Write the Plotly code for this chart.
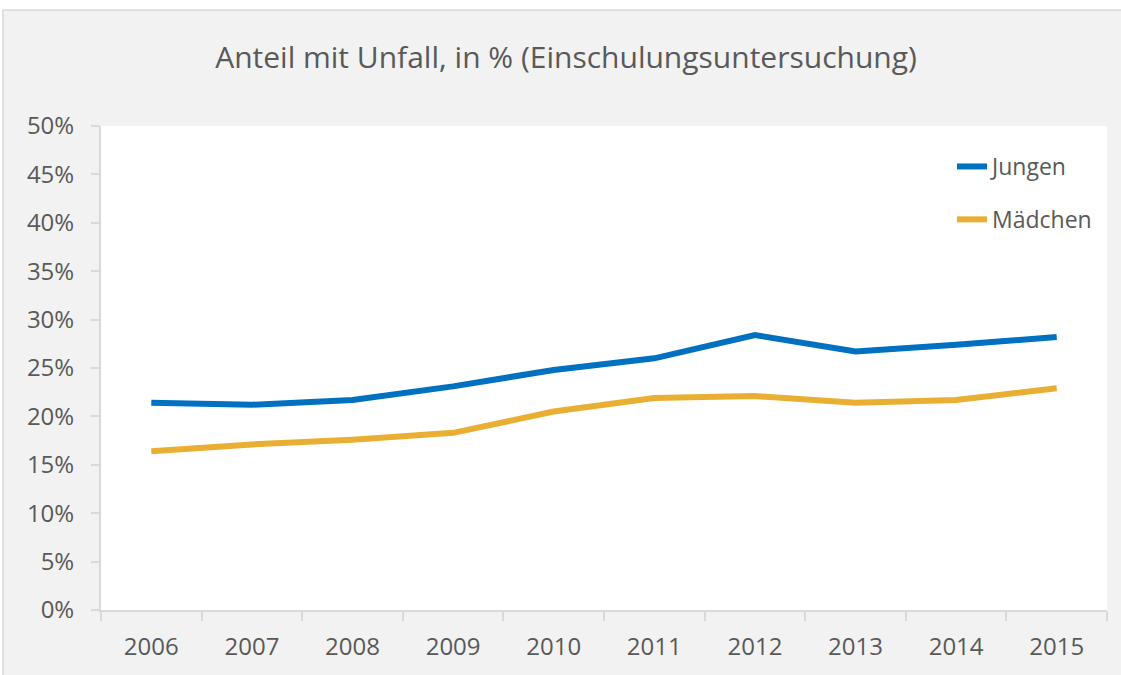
import plotly.graph_objects as go

years = ["2006", "2007", "2008", "2009", "2010", "2011", "2012", "2013", "2014", "2015"]
jungen = [21.4, 21.2, 21.7, 23.1, 24.8, 26.0, 28.4, 26.7, 27.4, 28.2]
maedchen = [16.4, 17.1, 17.6, 18.3, 20.5, 21.9, 22.1, 21.4, 21.7, 22.9]
y_ticks = list(range(0, 51, 5))
y_labels = [f"{v}%" for v in y_ticks]

FONT = "'Open Sans', Lato, sans-serif"
TXT = "#595959"
AX = "#d9d9d9"

fig = go.Figure()
fig.add_trace(go.Scatter(x=years, y=jungen, mode="lines", name="Jungen",
                         legendgroup="a",
                         line=dict(color="#0070C0", width=6)))
fig.add_trace(go.Scatter(x=years, y=maedchen, mode="lines", name="Mädchen",
                         legendgroup="b",
                         line=dict(color="#E9AF32", width=6)))

W, H = 1121, 675
L, R, T, B = 101, 14, 126, 65
pw, ph = W - L - R, H - T - B

def px_x(p):
    return (p - L) / pw

def px_y(p):
    return (H - B - p) / ph

# white strips outside the chart box (top and left), plus the box border
fig.add_shape(type="rect", xref="paper", yref="paper", layer="below",
              x0=px_x(-5), x1=px_x(W + 5), y0=px_y(10), y1=px_y(-5),
              fillcolor="white", line=dict(width=0))
fig.add_shape(type="rect", xref="paper", yref="paper", layer="below",
              x0=px_x(-5), x1=px_x(3), y0=px_y(H + 5), y1=px_y(-5),
              fillcolor="white", line=dict(width=0))
fig.add_shape(type="rect", xref="paper", yref="paper", layer="below",
              x0=px_x(3), x1=px_x(W + 5), y0=px_y(H + 5), y1=px_y(10),
              fillcolor="rgba(0,0,0,0)", line=dict(color=AX, width=1.5))

fig.update_layout(
    width=W, height=H,
    margin=dict(l=L, r=R, t=T, b=B),
    paper_bgcolor="#f2f2f2",
    plot_bgcolor="white",
    font=dict(family=FONT, color=TXT, size=22),
    title=dict(text="Anteil mit Unfall, in % (Einschulungsuntersuchung)",
               x=566 / W, xanchor="center", y=1 - 57 / H, yanchor="middle",
               font=dict(size=30, color=TXT, family=FONT)),
    legend=dict(x=px_x(952), xanchor="left", y=px_y(145), yanchor="top",
                bgcolor="rgba(0,0,0,0)", font=dict(size=23, color=TXT),
                tracegroupgap=20, itemwidth=30),
    showlegend=True,
    xaxis=dict(type="category", range=[-0.5, 9.5], tickson="boundaries",
               ticks="outside", ticklen=9, tickwidth=2, tickcolor=AX,
               showline=True, linecolor=AX, linewidth=2, showgrid=False,
               zeroline=False, tickfont=dict(size=24, color=TXT),
               ticklabelstandoff=14),
    yaxis=dict(range=[0, 50], tickvals=y_ticks, ticktext=y_labels,
               ticks="outside", ticklen=8, tickwidth=2, tickcolor=AX,
               showline=True, linecolor=AX, linewidth=2, showgrid=False,
               zeroline=False, tickfont=dict(size=24, color=TXT),
               ticklabelstandoff=12),
)

fig.write_html("out.html", config={"displayModeBar": False},
               post_script="document.body.style.margin='0';document.body.style.overflow='hidden';")
